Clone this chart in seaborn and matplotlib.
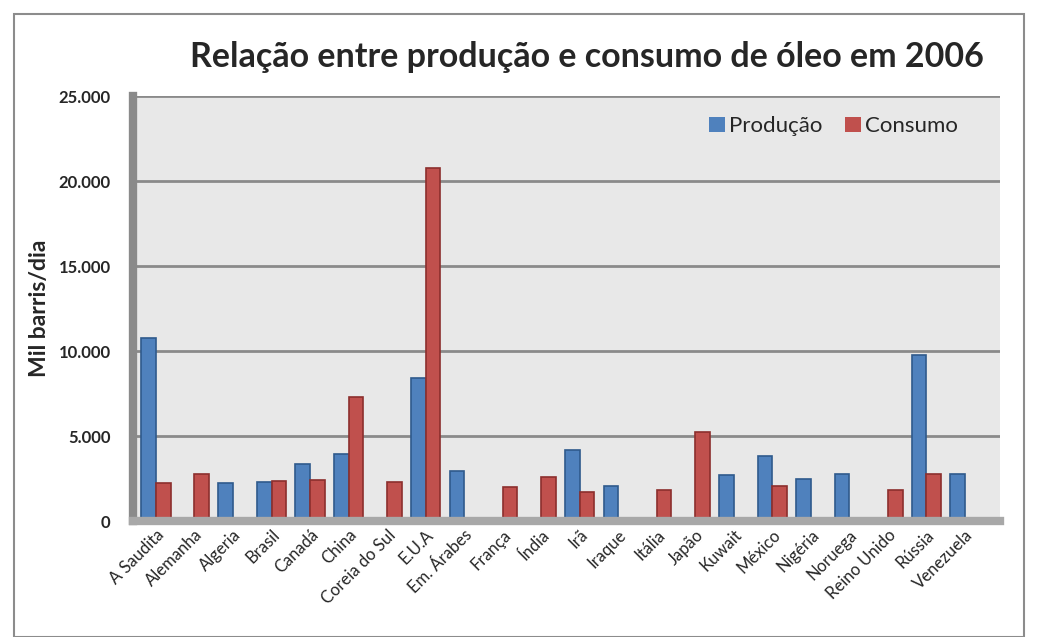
import numpy as np
import pandas as pd
import matplotlib
matplotlib.use("Agg")
import matplotlib.pyplot as plt
import seaborn as sns
from matplotlib.ticker import FuncFormatter
from matplotlib.patches import Rectangle

paises = ["A Saudita", "Alemanha", "Algeria", "Brasil", "Canadá", "China",
          "Coreia do Sul", "E.U.A", "Em. Árabes", "França", "Índia", "Irã",
          "Iraque", "Itália", "Japão", "Kuwait", "México", "Nigéria",
          "Noruega", "Reino Unido", "Rússia", "Venezuela"]
producao = [10800, 0, 2250, 2300, 3370, 3960, 0, 8400, 2970, 0, 0, 4200,
            2070, 0, 0, 2700, 3800, 2500, 2780, 0, 9770, 2780]
consumo = [2250, 2780, 0, 2350, 2400, 7300, 2270, 20750, 0, 2000, 2600, 1700,
           0, 1800, 5270, 0, 2070, 0, 0, 1830, 2780, 0]
series = ["Produção", "Consumo"]
cores = ["#4f81bd", "#c0504d"]

df = pd.DataFrame({
    "País": paises * 2,
    "Série": [series[0]] * len(paises) + [series[1]] * len(paises),
    "Valor": producao + consumo,
})

sns.set_style("white")
plt.rcParams["font.family"] = ["Lato", "DejaVu Sans"]

fig = plt.figure(figsize=(10.38, 6.37), dpi=100)
fig.patches.append(Rectangle((14 / 1038, 0.0), 1 - 28 / 1038, 1 - 14 / 637,
                             transform=fig.transFigure, fill=False,
                             edgecolor="#8c8c8c", linewidth=1.5))
ax = fig.add_axes([0.128, 0.182, 0.835, 0.667])
ax.set_facecolor("#e8e8e8")

sns.barplot(data=df, x="País", y="Valor", hue="Série", palette=cores,
            width=0.76, ax=ax, saturation=1, edgecolor=None, linewidth=0)
for i, container in enumerate(ax.containers):
    for bar in container:
        bar.set_edgecolor(["#2f5a8c", "#8c2f2d"][i])
        bar.set_linewidth(1.2)

ax.set_ylim(0, 25000)
ax.set_yticks(np.arange(0, 25001, 5000))
ax.yaxis.set_major_formatter(FuncFormatter(lambda v, p: f"{int(v):,}".replace(",", ".")))
ax.grid(axis="y", color="#8a8a8a", linewidth=2)
ax.set_axisbelow(True)
ax.set_xlim(-0.6, len(paises) - 0.1)

for s in ["top", "right"]:
    ax.spines[s].set_visible(False)
ax.spines["left"].set_color("#8a8a8a")
ax.spines["left"].set_linewidth(6)
ax.spines["bottom"].set_color("#a8a8a8")
ax.spines["bottom"].set_linewidth(6)

ax.tick_params(axis="y", labelsize=12, length=0, pad=16)
ax.tick_params(axis="x", labelsize=12, length=0, pad=4)
for lbl in ax.get_yticklabels():
    lbl.set_fontweight("bold")
plt.setp(ax.get_xticklabels(), rotation=45, ha="right", rotation_mode="anchor")

ax.set_xlabel("")
ax.set_ylabel("Mil barris/dia", fontsize=16.5, fontweight="bold", labelpad=6)

fig.text(0.565, 0.91, "Relação entre produção e consumo de óleo em 2006",
         ha="center", va="center", fontsize=24.5, fontweight="bold")

leg = ax.legend(loc="upper right", bbox_to_anchor=(0.975, 1.0), frameon=False,
                fontsize=16, ncol=2, handlelength=0.7, handleheight=0.7,
                handletextpad=0.2, columnspacing=1.0)

fig.savefig("out.png", dpi=100)
